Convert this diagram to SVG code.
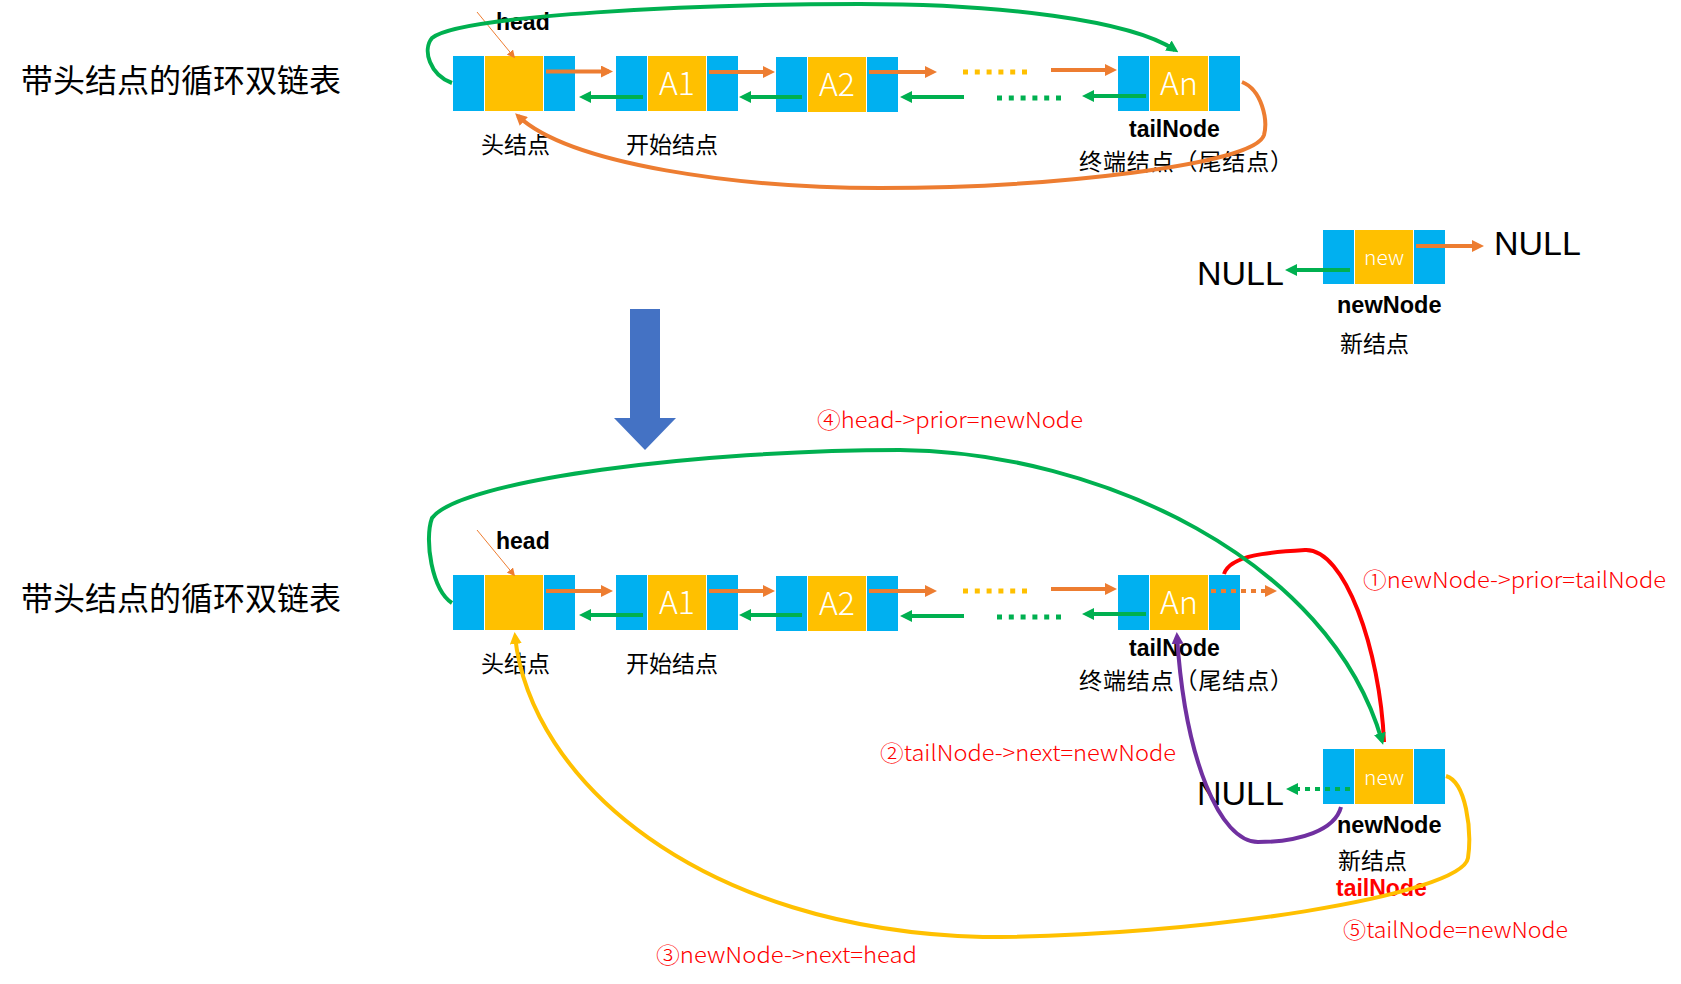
<svg xmlns="http://www.w3.org/2000/svg" width="1681" height="984" viewBox="0 0 1681 984">
<defs>
<style>
.bl{fill:#00B0F0}
.ye{fill:#FFC000}
.val{font-family:"Noto Sans CJK SC","Liberation Sans",sans-serif;font-size:32px;font-weight:300;fill:#fff;text-anchor:middle}
.nv{font-family:"Noto Sans CJK SC","Liberation Sans",sans-serif;font-size:21px;font-weight:300;fill:#fff;text-anchor:middle}
.cn{font-family:"Noto Sans CJK SC",sans-serif;font-size:23px;fill:#000}
.title{font-family:"Noto Sans CJK SC",sans-serif;font-size:32px;fill:#000}
.lb{font-family:"Liberation Sans","Noto Sans",sans-serif;font-size:23px;font-weight:bold;fill:#000}
.null{font-family:"Liberation Sans",sans-serif;font-size:34px;fill:#000}
.red{font-family:"Noto Sans CJK SC",sans-serif;font-size:22px;font-weight:300;fill:#FF0000}
.o{stroke:#ED7D31;stroke-width:4;fill:none}
.g{stroke:#00B050;stroke-width:4;fill:none}
.od{stroke:#FFC000;stroke-width:5;stroke-dasharray:5 6.8;fill:none}
.gd{stroke:#00B050;stroke-width:5;stroke-dasharray:5 6.8;fill:none}
.odo{stroke:#ED7D31;stroke-width:4;stroke-dasharray:5 5;fill:none}
.gdo{stroke:#00B050;stroke-width:4;stroke-dasharray:5 5;fill:none}
</style>
<marker id="ao" viewBox="0 0 12 12" refX="8" refY="6" markerWidth="12" markerHeight="12" markerUnits="userSpaceOnUse" orient="auto"><path d="M0,0 L12,6 L0,12 z" fill="#ED7D31"/></marker>
<marker id="ag" viewBox="0 0 12 12" refX="8" refY="6" markerWidth="12" markerHeight="12" markerUnits="userSpaceOnUse" orient="auto"><path d="M0,0 L12,6 L0,12 z" fill="#00B050"/></marker>
<marker id="ap" viewBox="0 0 12 12" refX="8" refY="6" markerWidth="12" markerHeight="12" markerUnits="userSpaceOnUse" orient="auto"><path d="M0,0 L12,6 L0,12 z" fill="#7030A0"/></marker>
<marker id="ay" viewBox="0 0 12 12" refX="8" refY="6" markerWidth="12" markerHeight="12" markerUnits="userSpaceOnUse" orient="auto"><path d="M0,0 L12,6 L0,12 z" fill="#FFC000"/></marker>
<marker id="at" viewBox="0 0 10 10" refX="8" refY="5" markerWidth="8" markerHeight="8" markerUnits="userSpaceOnUse" orient="auto"><path d="M0,0 L10,5 L0,10 z" fill="#ED7D31"/></marker>
</defs>
<rect width="1681" height="984" fill="#fff"/>

<!-- titles -->
<text id="title1" class="title" x="21" y="92">带头结点的循环双链表</text>
<text id="title2" class="title" x="21" y="610">带头结点的循环双链表</text>

<!-- top section nodes -->
<g id="t-head">
<rect class="bl" x="453" y="56" width="31" height="55"/><rect class="ye" x="485" y="56" width="58" height="55"/><rect class="bl" x="544" y="56" width="31" height="55"/>
</g>
<g id="t-a1">
<rect class="bl" x="616" y="56" width="31" height="55"/><rect class="ye" x="648" y="56" width="58" height="55"/><rect class="bl" x="707" y="56" width="31" height="55"/>
<text class="val" x="677" y="95">A1</text>
</g>
<g id="t-a2">
<rect class="bl" x="776" y="57" width="31" height="55"/><rect class="ye" x="808" y="57" width="58" height="55"/><rect class="bl" x="867" y="57" width="31" height="55"/>
<text class="val" x="837" y="96">A2</text>
</g>
<g id="t-an">
<rect class="bl" x="1118" y="56" width="31" height="55"/><rect class="ye" x="1150" y="56" width="58" height="55"/><rect class="bl" x="1209" y="56" width="31" height="55"/>
<text class="val" x="1179" y="95">An</text>
</g>
<g id="t-new">
<rect class="bl" x="1323" y="230" width="31" height="54"/><rect class="ye" x="1355" y="230" width="58" height="54"/><rect class="bl" x="1414" y="230" width="31" height="54"/>
<text class="nv" x="1384" y="265">new</text>
</g>

<!-- bottom section nodes -->
<g id="b-head">
<rect class="bl" x="453" y="575" width="31" height="55"/><rect class="ye" x="485" y="575" width="58" height="55"/><rect class="bl" x="544" y="575" width="31" height="55"/>
</g>
<g id="b-a1">
<rect class="bl" x="616" y="575" width="31" height="55"/><rect class="ye" x="648" y="575" width="58" height="55"/><rect class="bl" x="707" y="575" width="31" height="55"/>
<text class="val" x="677" y="614">A1</text>
</g>
<g id="b-a2">
<rect class="bl" x="776" y="576" width="31" height="55"/><rect class="ye" x="808" y="576" width="58" height="55"/><rect class="bl" x="867" y="576" width="31" height="55"/>
<text class="val" x="837" y="615">A2</text>
</g>
<g id="b-an">
<rect class="bl" x="1118" y="575" width="31" height="55"/><rect class="ye" x="1150" y="575" width="58" height="55"/><rect class="bl" x="1209" y="575" width="31" height="55"/>
<text class="val" x="1179" y="614">An</text>
</g>
<g id="b-new">
<rect class="bl" x="1323" y="749" width="31" height="55"/><rect class="ye" x="1355" y="749" width="58" height="55"/><rect class="bl" x="1414" y="749" width="31" height="55"/>
<text class="nv" x="1384" y="785">new</text>
</g>

<!-- big arrow -->
<polygon id="down-arrow" points="630,309 660,309 660,418 676,418 645,450 614,418 630,418" fill="#4472C4"/>

<!-- labels -->
<g id="labels">
<text class="lb" x="496" y="30">head</text>
<text class="cn" x="481" y="153">头结点</text>
<text class="cn" x="626" y="153">开始结点</text>
<text class="lb" x="1129" y="137">tailNode</text>
<text class="cn" x="1079" y="170" textLength="214" lengthAdjust="spacing">终端结点（尾结点）</text>
<text class="null" x="1494" y="255">NULL</text>
<text class="null" x="1197" y="285">NULL</text>
<text class="lb" x="1337" y="313" style="font-size:23.5px">newNode</text>
<text class="cn" x="1340" y="352">新结点</text>

<text class="lb" x="496" y="549">head</text>
<text class="cn" x="481" y="672">头结点</text>
<text class="cn" x="626" y="672">开始结点</text>
<text class="lb" x="1129" y="656">tailNode</text>
<text class="cn" x="1079" y="689" textLength="214" lengthAdjust="spacing">终端结点（尾结点）</text>
<text class="null" x="1197" y="805">NULL</text>
<text class="lb" x="1337" y="833" style="font-size:23.5px">newNode</text>
<text class="cn" x="1338" y="869">新结点</text>
<text class="lb" x="1336" y="896" style="fill:#FF0000">tailNode</text>

<text class="red" x="817" y="428" textLength="266" lengthAdjust="spacingAndGlyphs">④head-&gt;prior=newNode</text>
<text class="red" x="1363" y="588" textLength="303" lengthAdjust="spacingAndGlyphs">①newNode-&gt;prior=tailNode</text>
<text class="red" x="880" y="761" textLength="296" lengthAdjust="spacingAndGlyphs">②tailNode-&gt;next=newNode</text>
<text class="red" x="656" y="963" textLength="261" lengthAdjust="spacingAndGlyphs">③newNode-&gt;next=head</text>
<text class="red" x="1343" y="938" textLength="225" lengthAdjust="spacingAndGlyphs">⑤tailNode=newNode</text>
</g>

<!-- connectors -->
<g id="connectors">
<!-- top -->
<line x1="477" y1="12" x2="514" y2="57" stroke="#ED7D31" stroke-width="1" marker-end="url(#at)"/>
<line class="o" x1="546" y1="71.5" x2="609" y2="71.5" marker-end="url(#ao)"/>
<line class="g" x1="643" y1="97" x2="583" y2="97" marker-end="url(#ag)"/>
<line class="o" x1="709" y1="72" x2="771" y2="72" marker-end="url(#ao)"/>
<line class="g" x1="802" y1="97" x2="743" y2="97" marker-end="url(#ag)"/>
<line class="o" x1="869" y1="72" x2="933" y2="72" marker-end="url(#ao)"/>
<line class="od" x1="963" y1="72" x2="1029" y2="72"/>
<line class="o" x1="1051" y1="70" x2="1113" y2="70" marker-end="url(#ao)"/>
<line class="g" x1="964" y1="97" x2="904" y2="97" marker-end="url(#ag)"/>
<line class="gd" x1="997" y1="98" x2="1063" y2="98"/>
<line class="g" x1="1146" y1="96" x2="1086" y2="96" marker-end="url(#ag)"/>
<path class="g" d="M452,83 C430,75 422,50 432,38 C460,15 700,4 860,4 C1000,4 1130,20 1175,50" marker-end="url(#ag)"/>
<path class="o" d="M1242,82 C1262,90 1268,120 1264,135 C1255,165 1050,188 880,188 C740,188 570,165 518,116" marker-end="url(#ao)"/>
<line class="g" x1="1350" y1="270" x2="1289" y2="270" marker-end="url(#ag)"/>
<line class="o" x1="1416" y1="246" x2="1480" y2="246" marker-end="url(#ao)"/>

<!-- bottom -->
<line x1="477" y1="530" x2="514" y2="575" stroke="#ED7D31" stroke-width="1" marker-end="url(#at)"/>
<line class="o" x1="546" y1="591" x2="609" y2="591" marker-end="url(#ao)"/>
<line class="g" x1="643" y1="615" x2="583" y2="615" marker-end="url(#ag)"/>
<line class="o" x1="709" y1="591" x2="771" y2="591" marker-end="url(#ao)"/>
<line class="g" x1="802" y1="615" x2="743" y2="615" marker-end="url(#ag)"/>
<line class="o" x1="869" y1="591" x2="933" y2="591" marker-end="url(#ao)"/>
<line class="od" x1="963" y1="591" x2="1029" y2="591"/>
<line class="o" x1="1051" y1="589" x2="1113" y2="589" marker-end="url(#ao)"/>
<line class="g" x1="964" y1="616" x2="904" y2="616" marker-end="url(#ag)"/>
<line class="gd" x1="997" y1="617" x2="1063" y2="617"/>
<line class="g" x1="1146" y1="614" x2="1086" y2="614" marker-end="url(#ag)"/>
<line class="odo" x1="1211" y1="591" x2="1273" y2="591" marker-end="url(#ao)"/>
<line class="gdo" x1="1350" y1="789" x2="1290" y2="789" marker-end="url(#ag)"/>
<path d="M1224,574 C1230,555 1270,552 1305,550 C1345,548 1380,650 1384,742" stroke="#FF0000" stroke-width="4" fill="none"/>
<path class="g" d="M452,603 C432,590 424,540 432,518 C460,480 700,450 900,450 C1100,452 1330,560 1382,741" marker-end="url(#ag)"/>
<path d="M1341,807 C1335,830 1300,842 1258,842 C1220,842 1185,760 1177,636" stroke="#7030A0" stroke-width="4" fill="none" marker-end="url(#ap)"/>
<path d="M1446,776 C1466,782 1472,830 1468,858 C1462,895 1200,937 983,937 C700,930 530,780 515,636" stroke="#FFC000" stroke-width="4" fill="none" marker-end="url(#ay)"/>
</g>
</svg>
